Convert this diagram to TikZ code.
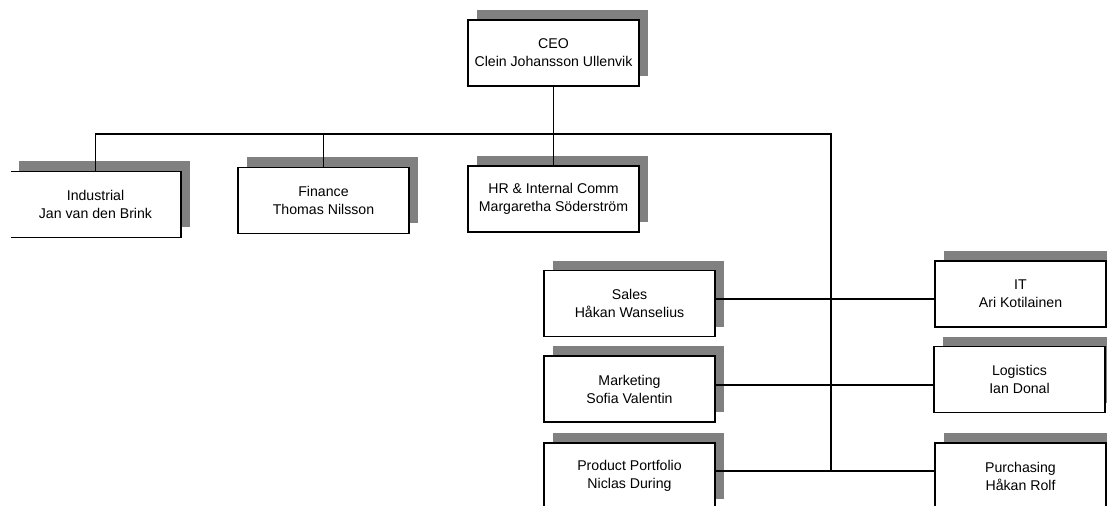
\documentclass[tikz,border=0pt]{standalone}
\usepackage{fontspec}
\setmainfont{Liberation Sans}
\usetikzlibrary{shadows}
\begin{document}
\begin{tikzpicture}[x=0.75pt,y=-0.75pt,
  box/.style={draw,line width=0.8pt,fill=white,minimum width=128.25pt,minimum height=49.5pt,
    align=center,font=\fontsize{10.6pt}{13.5pt}\selectfont,
    drop shadow={shadow xshift=6.75pt,shadow yshift=7.5pt,fill=gray,opacity=1}},
  wire/.style={line width=0.8pt}]
\useasboundingbox (0,0) rectangle (1107,506);
\clip (0,0) rectangle (1107,506);
\node [box] (ceo) at (553.5,53) {CEO\\Clein Johansson Ullenvik};
\begin{scope}
\clip (11,0) rectangle (1107,506);
\node [box] (industrial) at (95.5,204.5) {Industrial\\Jan van den Brink};
\end{scope}
\node [box] (finance) at (323.5,200.5) {Finance\\Thomas Nilsson};
\node [box] (hr) at (553.5,199) {HR \& Internal Comm\\Margaretha Söderström};
\node [box] (sales) at (629.5,303.5) {Sales\\Håkan Wanselius};
\node [box] (marketing) at (629.5,389) {Marketing\\Sofia Valentin};
\node [box] (product) at (629.5,476) {Product Portfolio\\Niclas During};
\node [box] (it) at (1020.5,294) {IT\\Ari Kotilainen};
\node [box] (logistics) at (1019.5,379.5) {Logistics\\Ian Donal};
\node [box] (purchasing) at (1020.5,476) {Purchasing\\Håkan Rolf};
% bar and trunk
\coordinate (corner) at (831,134);
\coordinate (j1) at (831,299);
\coordinate (j2) at (831,385);
\coordinate (j3) at (831,471);
\draw[wire] (ceo.south) -- (hr.north);
\draw[wire] (industrial.north) |- (corner) -- (j3);
\draw[wire] (finance.north) -- (finance.north |- corner);
\draw[wire] (sales.east |- j1) -- (it.west |- j1);
\draw[wire] (marketing.east |- j2) -- (logistics.west |- j2);
\draw[wire] (product.east |- j3) -- (purchasing.west |- j3);
\end{tikzpicture}
\end{document}
